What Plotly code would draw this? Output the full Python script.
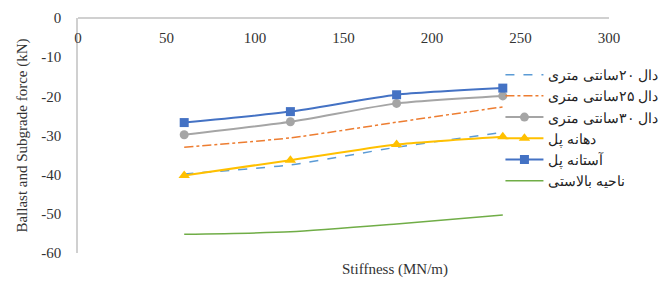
import plotly.graph_objects as go

stiffness = [60, 120, 180, 240]
names = ["دال ۲۰سانتی متری", "دال ۲۵سانتی متری", "دال ۳۰سانتی متری",
         "دهانه پل", "آستانه پل", "ناحیه بالاستی"]
dal20 = [-39.8, -37.5, -33.0, -29.2]
dal25 = [-33.0, -30.6, -26.6, -22.7]
dal30 = [-29.8, -26.5, -21.8, -19.9]
dahaneh = [-40.2, -36.3, -32.3, -30.3]
astaneh = [-26.7, -23.9, -19.6, -17.9]
ballast = [-55.2, -54.6, -52.6, -50.3]

x_ticks = [0, 50, 100, 150, 200, 250, 300]
y_ticks = [0, -10, -20, -30, -40, -50, -60]
y_ticktext = ["0", "-10", "-20", "-30", "-40", "-50", "-60"]

FONT = "Times New Roman, Liberation Serif, serif"

fig = go.Figure()
styles = [
    (dal20, dict(color="#5B9BD5", width=1.5, dash="dash"), None),
    (dal25, dict(color="#ED7D31", width=1.5, dash="dashdot"), None),
    (dal30, dict(color="#A5A5A5", width=2), dict(symbol="circle", size=9, color="#A5A5A5")),
    (dahaneh, dict(color="#FFC000", width=2), dict(symbol="triangle-up", size=10, color="#FFC000")),
    (astaneh, dict(color="#4472C4", width=2), dict(symbol="square", size=9, color="#4472C4")),
    (ballast, dict(color="#70AD47", width=1.5), None),
]
for name, (vals, line, marker) in zip(names, styles):
    line = dict(line, shape="spline", smoothing=0.6)
    kw = dict(x=stiffness, y=vals, name=name, line=line)
    if marker:
        fig.add_trace(go.Scatter(mode="lines+markers", marker=marker, **kw))
    else:
        fig.add_trace(go.Scatter(mode="lines", **kw))

# page body has an 8px margin, so the figure is 661x276 to fill the 669x284 window
fig.update_layout(
    width=661, height=276,
    margin=dict(l=70, r=60, t=10, b=31, autoexpand=False),
    paper_bgcolor="white", plot_bgcolor="white",
    font=dict(family=FONT, size=15, color="#333333"),
    showlegend=True,
    legend=dict(x=0.745, y=0.815, xref="container", yref="container",
                xanchor="left", yanchor="top",
                font=dict(family=FONT, size=14, color="#222222"),
                bgcolor="rgba(0,0,0,0)", itemwidth=38),
    xaxis=dict(range=[0, 300], tickvals=x_ticks, side="bottom",
               anchor="free", position=1, automargin=False,
               ticklabelstandoff=6,
               showline=True, linecolor="#D0D0D0", linewidth=1.5,
               showgrid=False, zeroline=False, ticks=""),
    yaxis=dict(range=[-60, 0], tickvals=y_ticks, ticktext=y_ticktext,
               showline=True, automargin=False,
               linecolor="#D0D0D0", linewidth=1.5, showgrid=False,
               zeroline=False, ticks="", ticklabelstandoff=12,
               title=dict(text="Ballast and Subgrade force (kN)",
                          font=dict(family=FONT, size=15), standoff=10)),
    annotations=[dict(text="Stiffness (MN/m)", x=0.597, y=-0.072, xref="paper", yref="paper",
                      xanchor="center", yanchor="middle", showarrow=False,
                      font=dict(family=FONT, size=15, color="#333333"))],
)

fig.write_html("out.html", config={"displayModeBar": False})
